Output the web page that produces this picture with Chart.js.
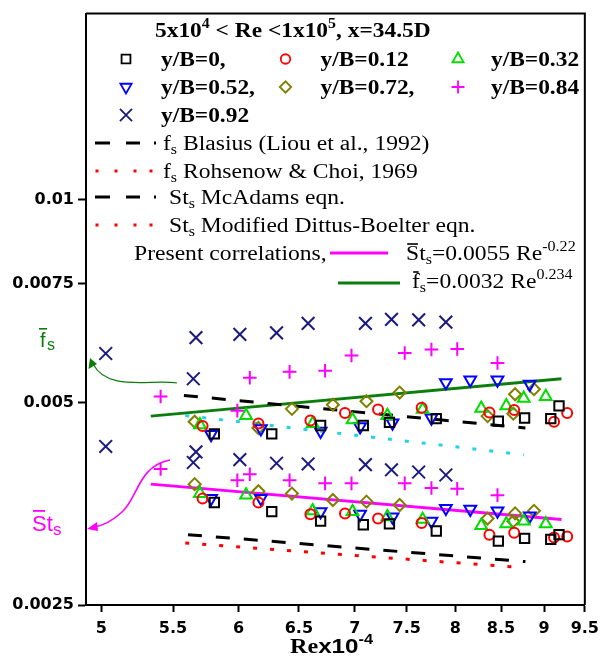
<!DOCTYPE html>
<html>
<head>
<meta charset="utf-8">
<script src="https://cdn.jsdelivr.net/npm/chart.js@4.4.1/dist/chart.umd.min.js"></script>
<style>
html, body { margin: 0; padding: 0; background: #fff; }
canvas { display: block; }
</style>
</head>
<body>
<canvas id="chart" width="606" height="658"></canvas>
<script>
// Re x 10^-4 for each y/B, with friction factor (fs) and Stanton number (Sts)
const xB0  = [5.81, 6.27, 6.69, 7.08, 7.33, 7.80, 8.47, 8.77, 9.08, 9.18];
const fB0  = [0.00449, 0.00449, 0.00462, 0.00462, 0.00467, 0.00473, 0.00469, 0.00474, 0.00473, 0.00494];
const stB0 = [0.00355, 0.00344, 0.00333, 0.00329, 0.00330, 0.00322, 0.00311, 0.00314, 0.00313, 0.00318];

const xB12  = [5.72, 6.16, 6.60, 6.91, 7.22, 7.65, 8.37, 8.65, 9.12, 9.28];
const fB12  = [0.00461, 0.00465, 0.00470, 0.00482, 0.00488, 0.00491, 0.00483, 0.00487, 0.00468, 0.00482];
const stB12 = [0.00360, 0.00355, 0.00341, 0.00342, 0.00336, 0.00331, 0.00318, 0.00320, 0.00315, 0.00316];

const xB32  = [5.70, 6.06, 6.62, 6.98, 7.31, 7.66, 8.28, 8.56, 8.76, 9.02];
const fB32  = [0.00463, 0.00478, 0.00465, 0.00471, 0.00478, 0.00488, 0.00490, 0.00494, 0.00507, 0.00510];
const stB32 = [0.00366, 0.00364, 0.00345, 0.00344, 0.00338, 0.00335, 0.00328, 0.00330, 0.00333, 0.00330];

const xB52  = [5.785, 6.18, 6.69, 7.05, 7.36, 7.75, 7.90, 8.16, 8.46, 8.83];
const fB52  = [0.00448, 0.00457, 0.00453, 0.00460, 0.00466, 0.00474, 0.00535, 0.00540, 0.00540, 0.00532];
const stB52 = [0.00360, 0.00360, 0.00344, 0.00341, 0.00338, 0.00333, 0.00348, 0.00347, 0.00345, 0.00339];

const xB72  = [5.66, 6.16, 6.44, 6.80, 7.11, 7.43, 8.35, 8.64, 8.66, 8.88];
const fB72  = [0.00468, 0.00458, 0.00489, 0.00496, 0.00502, 0.00517, 0.00477, 0.00481, 0.00514, 0.00523];
const stB72 = [0.00378, 0.00369, 0.00366, 0.00358, 0.00356, 0.00352, 0.00336, 0.00333, 0.00342, 0.00345];

const xB84  = [5.41, 5.99, 6.09, 6.42, 6.73, 6.97, 7.48, 7.75, 8.02, 8.46];
const fB84  = [0.00510, 0.00486, 0.00544, 0.00555, 0.00557, 0.00587, 0.00592, 0.00599, 0.00600, 0.00572];
const stB84 = [0.00398, 0.00383, 0.00391, 0.00383, 0.00379, 0.00379, 0.00379, 0.00373, 0.00372, 0.00364];

const xB92  = [5.03, 5.65, 5.67, 6.01, 6.31, 6.58, 7.10, 7.35, 7.62, 7.90];
const fB92  = [0.00591, 0.00542, 0.00624, 0.00631, 0.00634, 0.00655, 0.00655, 0.00664, 0.00663, 0.00658];
const stB92 = [0.00430, 0.00407, 0.00422, 0.00411, 0.00406, 0.00405, 0.00404, 0.00397, 0.00394, 0.00390];

// correlation lines (end points)
const blasiusX  = [5.58, 8.78];
const blasiusF  = [0.00512, 0.00458];
const rohsenowX = [5.59, 8.76];
const rohsenowF = [0.00478, 0.00418];
const mcadamsX  = [5.61, 8.78];
const mcadamsSt = [0.00318, 0.00290];
const dittusX   = [5.59, 8.76];
const dittusSt  = [0.00309, 0.00284];
const presentX  = [5.34, 9.21];
const presentSt = [0.00378, 0.00335];
const presentF  = [0.00477, 0.00542];

const xTicks = [5, 5.5, 6, 6.5, 7, 7.5, 8, 8.5, 9, 9.5];
const xTickLabels = ['5', '5.5', '6', '6.5', '7', '7.5', '8', '8.5', '9', '9.5'];
const yTicks = [0.0025, 0.005, 0.0075, 0.01];
const yTickLabels = ['0.0025', '0.005', '0.0075', '0.01'];

const markerSeries = [
  { name: 'y/B=0,',    x: xB0,  f: fB0,  st: stB0,  style: 'rect',     color: '#000000', r: 6.6, rot: 0 },
  { name: 'y/B=0.12',  x: xB12, f: fB12, st: stB12, style: 'circle',   color: '#ff0000', r: 5.0, rot: 0 },
  { name: 'y/B=0.32',  x: xB32, f: fB32, st: stB32, style: 'triangle', color: '#00dd00', r: 6.8, rot: 0 },
  { name: 'y/B=0.52,', x: xB52, f: fB52, st: stB52, style: 'triangle', color: '#0000ff', r: 6.8, rot: 180 },
  { name: 'y/B=0.72,', x: xB72, f: fB72, st: stB72, style: 'rectRot',  color: '#808000', r: 6.0, rot: 0 },
  { name: 'y/B=0.84',  x: xB84, f: fB84, st: stB84, style: 'cross',    color: '#ff00ff', r: 6.8, rot: 0 },
  { name: 'y/B=0.92',  x: xB92, f: fB92, st: stB92, style: 'crossRot', color: '#1a1a80', r: 9.0, rot: 0 }
];

function pts(xs, ys) {
  return xs.map((x, i) => ({ x: x, y: ys[i] }));
}

function lineSet(xs, ys, color, width, dash) {
  return {
    data: pts(xs, ys),
    showLine: true,
    pointRadius: 0,
    borderColor: color,
    borderWidth: width,
    borderDash: dash,
    borderCapStyle: 'butt',
    fill: false
  };
}

const datasets = [];
markerSeries.forEach(s => {
  [s.f, s.st].forEach(ys => {
    datasets.push({
      data: pts(s.x, ys),
      showLine: false,
      pointStyle: s.style,
      pointRadius: s.r,
      pointRotation: s.rot,
      pointBorderColor: s.color,
      pointBackgroundColor: 'rgba(0,0,0,0)',
      pointBorderWidth: 2
    });
  });
});
datasets.push(lineSet(blasiusX, blasiusF, '#000000', 3, [14, 14]));
datasets.push(lineSet(rohsenowX, rohsenowF, '#22d3e6', 3, [4, 13]));
datasets.push(lineSet(mcadamsX, mcadamsSt, '#000000', 3, [14, 14]));
datasets.push(lineSet(dittusX, dittusSt, '#ff0000', 3, [4, 13]));
datasets.push(lineSet(presentX, presentSt, '#ff00ff', 3, []));
datasets.push(lineSet(presentX, presentF, '#0b7d0b', 3, []));

// text with sub/superscripts and overbars, stretched a bit sideways like the original
function richText(ctx, x, y, parts, opt) {
  ctx.save();
  ctx.translate(x, y);
  ctx.scale(opt.sx || 1, 1);
  ctx.fillStyle = opt.color || '#000';
  ctx.textBaseline = 'alphabetic';
  ctx.textAlign = 'left';
  let cx = 0;
  parts.forEach(p => {
    const seg = typeof p === 'string' ? { t: p } : p;
    const size = (seg.sub || seg.sup) ? opt.size * 0.68 : opt.size;
    const fam = seg.family || opt.family;
    ctx.font = (opt.weight || 'normal') + ' ' + size + 'px ' + fam;
    const dy = seg.sub ? opt.size * 0.22 : (seg.sup ? -opt.size * 0.45 : 0);
    ctx.fillText(seg.t, cx, dy);
    const w = ctx.measureText(seg.t).width;
    if (seg.bar) ctx.fillRect(cx + 1, -opt.size * 0.84, w - 2, 1.6);
    cx += w;
  });
  ctx.restore();
}

function marker(ctx, s, x, y, scale) {
  ctx.save();
  ctx.strokeStyle = s.color;
  ctx.fillStyle = 'rgba(0,0,0,0)';
  ctx.lineWidth = 1.8;
  Chart.helpers.drawPoint(ctx, { pointStyle: s.style, radius: s.r * scale, rotation: s.rot, borderWidth: 1.8 }, x, y);
  ctx.restore();
}

function seg(ctx, x1, x2, y, color, width) {
  ctx.save();
  ctx.strokeStyle = color;
  ctx.lineWidth = width;
  ctx.beginPath();
  ctx.moveTo(x1, y);
  ctx.lineTo(x2, y);
  ctx.stroke();
  ctx.restore();
}

function dashSample(ctx, y) {
  seg(ctx, 95, 110, y, '#000', 3);
  seg(ctx, 126, 140, y, '#000', 3);
  seg(ctx, 154, 156, y, '#000', 3);
}

function dotSample(ctx, y) {
  [97, 116, 135, 151].forEach(x => seg(ctx, x - 1.5, x + 1.5, y, '#ff0000', 3));
}

const serif = '"Liberation Serif", "Times New Roman", serif';
const sans = '"Liberation Sans", Arial, sans-serif';

const decorations = {
  id: 'decorations',
  afterDraw(chart) {
    const ctx = chart.ctx;
    const a = chart.chartArea;

    // top and right frame
    ctx.save();
    ctx.strokeStyle = '#000';
    ctx.lineWidth = 2;
    ctx.beginPath();
    ctx.moveTo(a.left, a.top);
    ctx.lineTo(a.right, a.top);
    ctx.lineTo(a.right, a.bottom);
    ctx.stroke();
    ctx.restore();

    // legend
    const bold = { size: 20, family: serif, weight: 'bold', sx: 1.17 };
    const reg = { size: 20, family: serif, weight: 'normal', sx: 1.18 };
    richText(ctx, 155, 37, ['5x10', { t: '4', sup: true }, ' < Re <1x10', { t: '5', sup: true }, ', x=34.5D'], bold);

    const cols = [[126, 161], [285.5, 320.5], [458, 491]];
    const rows = [59, 87, 115];
    markerSeries.forEach((s, i) => {
      const c = cols[i % 3];
      const ry = rows[Math.floor(i / 3)];
      marker(ctx, s, c[0], ry, 0.95);
      richText(ctx, c[1], ry + 7, [s.name], bold);
    });

    dashSample(ctx, 143);
    richText(ctx, 163, 150, ['f', { t: 's', sub: true }, ' Blasius (Liou et al., 1992)'], reg);
    dotSample(ctx, 171);
    richText(ctx, 163, 178, ['f', { t: 's', sub: true }, ' Rohsenow & Choi, 1969'], reg);
    dashSample(ctx, 197);
    richText(ctx, 169, 204, ['St', { t: 's', sub: true }, ' McAdams eqn.'], reg);
    dotSample(ctx, 225);
    richText(ctx, 169, 232, ['St', { t: 's', sub: true }, ' Modified Dittus-Boelter eqn.'], reg);

    richText(ctx, 134, 260, ['Present correlations,'], reg);
    seg(ctx, 330, 388, 253, '#ff00ff', 3);
    richText(ctx, 406, 260, [{ t: 'S', bar: true }, 't', { t: 's', sub: true }, '=0.0055 Re', { t: '-0.22', sup: true }], reg);
    seg(ctx, 338, 400, 283, '#0b7d0b', 3);
    richText(ctx, 412, 288, [{ t: 'f', bar: true }, { t: 's', sub: true }, '=0.0032 Re', { t: '0.234', sup: true }], reg);

    // x axis title
    richText(ctx, 290, 653, ['Re', { t: 'x10', family: sans }, { t: '-4', sup: true, family: sans }], { size: 21, family: serif, weight: 'bold', sx: 1.15 });

    // side labels and arrows
    ctx.save();
    ctx.fillStyle = '#0b7d0b';
    ctx.font = 'normal 20px ' + sans;
    ctx.fillText('f', 40, 347);
    ctx.font = 'normal 16px ' + sans;
    ctx.fillText('s', 47, 350);
    ctx.fillRect(39, 328, 8, 1.6);

    ctx.strokeStyle = '#0b7d0b';
    ctx.lineWidth = 1.2;
    ctx.beginPath();
    ctx.moveTo(177, 383);
    ctx.bezierCurveTo(150, 379, 108, 392, 93, 364);
    ctx.stroke();
    ctx.beginPath();
    ctx.moveTo(90, 358);
    ctx.lineTo(88.5, 369);
    ctx.lineTo(97, 364);
    ctx.closePath();
    ctx.fill();

    ctx.fillStyle = '#ff00ff';
    ctx.font = 'normal 22px ' + sans;
    ctx.fillText('St', 32, 531);
    ctx.font = 'normal 17px ' + sans;
    ctx.fillText('s', 53, 535);
    ctx.fillRect(33, 510, 12, 1.8);

    ctx.strokeStyle = '#ff00ff';
    ctx.lineWidth = 1.6;
    ctx.beginPath();
    ctx.moveTo(170, 460);
    ctx.bezierCurveTo(138, 466, 138, 498, 122, 512);
    ctx.quadraticCurveTo(108, 525, 94, 527);
    ctx.stroke();
    ctx.beginPath();
    ctx.moveTo(87, 529);
    ctx.lineTo(97, 522);
    ctx.lineTo(98, 531);
    ctx.closePath();
    ctx.fill();
    ctx.restore();
  }
};

const tickFont = { family: '"DejaVu Sans", sans-serif', size: 16, weight: 'bold' };

new Chart(document.getElementById('chart'), {
  type: 'scatter',
  data: { datasets: datasets },
  options: {
    responsive: false,
    animation: false,
    layout: { padding: { top: 7, right: 14, left: 0, bottom: 0 } },
    plugins: {
      legend: { display: false },
      tooltip: { enabled: false }
    },
    scales: {
      x: {
        type: 'logarithmic',
        min: 4.9,
        max: 9.5,
        afterBuildTicks: scale => { scale.ticks = xTicks.map(v => ({ value: v })); },
        afterFit: scale => { scale.height = 53; },
        ticks: {
          autoSkip: false,
          maxRotation: 0,
          color: '#000',
          font: tickFont,
          padding: 7,
          callback: (v, i) => xTickLabels[i]
        },
        grid: { display: true, drawOnChartArea: false, drawTicks: true, tickLength: 7, tickWidth: 2, tickColor: '#000' },
        border: { display: true, color: '#000', width: 2 }
      },
      y: {
        type: 'logarithmic',
        min: 0.0025,
        max: 0.0189,
        afterBuildTicks: scale => { scale.ticks = yTicks.map(v => ({ value: v })); },
        afterFit: scale => { scale.width = 86; },
        ticks: {
          autoSkip: false,
          color: '#000',
          font: tickFont,
          padding: 4,
          callback: (v, i) => yTickLabels[i]
        },
        grid: { display: true, drawOnChartArea: false, drawTicks: true, tickLength: 8, tickWidth: 2, tickColor: '#000' },
        border: { display: true, color: '#000', width: 2 }
      }
    }
  },
  plugins: [decorations]
});
</script>
</body>
</html>
